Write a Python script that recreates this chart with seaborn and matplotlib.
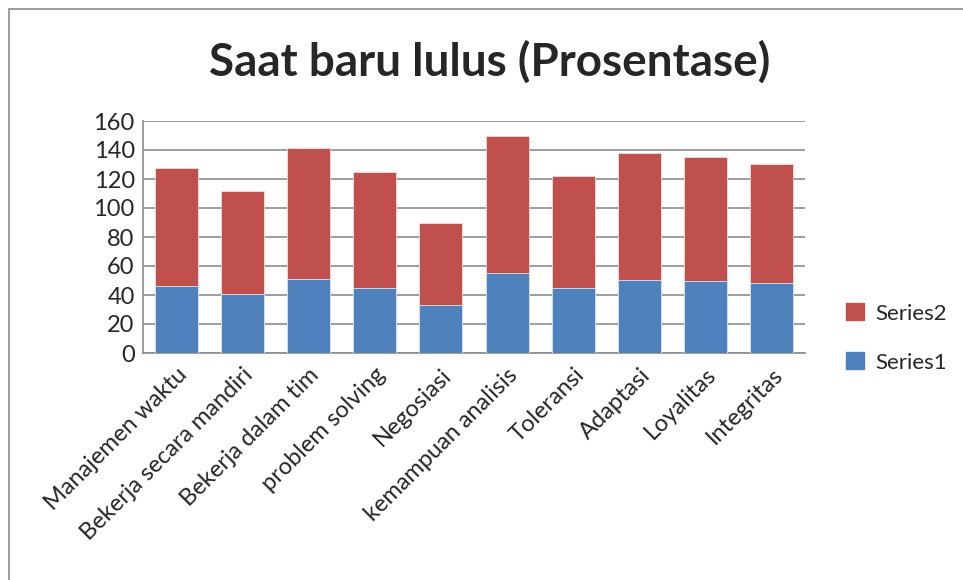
import numpy as np
import pandas as pd
import seaborn as sns
import matplotlib.pyplot as plt
from matplotlib.patches import Rectangle
from matplotlib.patches import Patch

categories = ['Manajemen waktu', 'Bekerja secara mandiri', 'Bekerja dalam tim',
              'problem solving', 'Negosiasi', 'kemampuan analisis', 'Toleransi',
              'Adaptasi', 'Loyalitas', 'Integritas']
series1 = [46, 41, 51, 45, 33, 55, 44.5, 50.5, 49.5, 48]
series2 = [81.5, 70.5, 90.5, 79.5, 56.5, 94.5, 77.5, 87.5, 86, 82]

blue = '#4F81BD'
red = '#C0504D'

df = pd.DataFrame({'cat': categories, 'Series1': series1, 'Series2': series2})
df['total'] = df['Series1'] + df['Series2']

sns.set_style('white')
plt.rcParams['font.family'] = ['Lato', 'DejaVu Sans']

fig = plt.figure(figsize=(9.63, 5.8), dpi=100)
ax = fig.add_axes([143 / 963, 1 - 353 / 580, 662 / 963, 232 / 580])

# stacked: total in red first, series1 in blue on top
sns.barplot(data=df, x='cat', y='total', color=red, width=0.65,
            saturation=1, ax=ax, zorder=3, edgecolor='#F2DCDB', linewidth=0.6)
sns.barplot(data=df, x='cat', y='Series1', color=blue, width=0.65,
            saturation=1, ax=ax, zorder=4, edgecolor='#DCE6F2', linewidth=0.6)

ax.set_xlim(-0.5, 9.5)
ax.set_ylim(0, 160)
ax.set_yticks(range(0, 161, 20))
ax.yaxis.grid(True, color='#8C8C8C', linewidth=1.2, zorder=0)
ax.set_axisbelow(True)
ax.set_xlabel('')
ax.set_ylabel('')
for s in ['top', 'right']:
    ax.spines[s].set_visible(False)
for s in ['left', 'bottom']:
    ax.spines[s].set_color('#8C8C8C')
    ax.spines[s].set_linewidth(1.2)
ax.tick_params(axis='y', labelsize=17, pad=6, length=0)
ax.tick_params(axis='x', length=0, pad=8)
ax.set_xticks(range(len(categories)))
ax.set_xticklabels(categories, rotation=45, ha='right', rotation_mode='anchor',
                   fontsize=17)

fig.suptitle('Saat baru lulus (Prosentase)', x=490 / 963, y=1 - 62 / 580,
             va='center', fontsize=33, fontweight='bold')

handles = [Patch(color=red, label='Series2'), Patch(color=blue, label='Series1')]
fig.legend(handles=handles, loc='center left', bbox_to_anchor=(826 / 963, 1 - 338 / 580),
           frameon=False, fontsize=16, labelspacing=1.3, handlelength=0.8,
           handleheight=0.8, handletextpad=0.5)

fig.patches.append(Rectangle((9 / 963, -0.1), 1.2, 1 - 9 / 580 + 0.1,
                             transform=fig.transFigure, fill=False,
                             edgecolor='#8C8C8C', linewidth=1.2))

fig.savefig('out.png', dpi=100)
